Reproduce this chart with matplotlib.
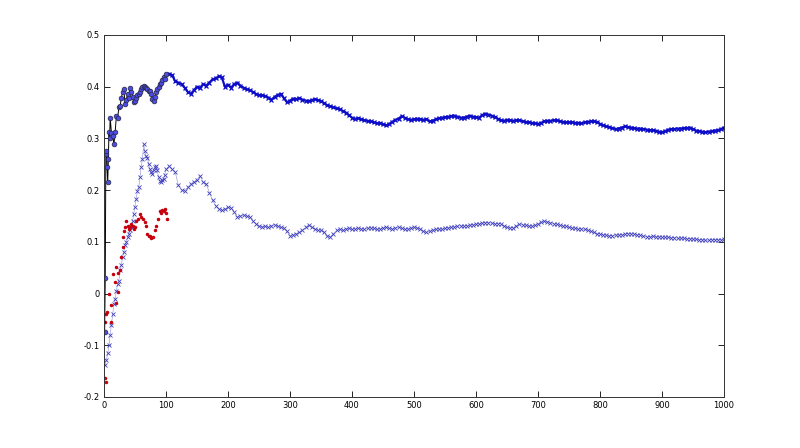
import matplotlib
matplotlib.use("Agg")
import matplotlib.pyplot as plt
import numpy as np

# ---- data ----
upper_early_idx = [1, 2, 3, 4, 5, 6, 7, 8, 9, 10] + list(range(12, 101, 2))
upper_early_val = [-0.075, 0.03, 0.27, 0.276, 0.244, 0.215, 0.26, 0.312, 0.30, 0.34,
                   0.31, 0.305, 0.289, 0.312, 0.344, 0.34, 0.36, 0.362, 0.379, 0.389,
                   0.395, 0.366, 0.375, 0.386, 0.378, 0.398, 0.39, 0.38, 0.37, 0.372,
                   0.378, 0.383, 0.385, 0.389, 0.396, 0.40, 0.402, 0.40, 0.398, 0.395,
                   0.392, 0.392, 0.385, 0.376, 0.373, 0.38, 0.389, 0.395, 0.40, 0.405,
                   0.408, 0.412, 0.418, 0.415, 0.424]

upper_late_idx = list(range(105, 1001, 5))
upper_late_val = [
    0.425, 0.422, 0.41, 0.408, 0.405, 0.398, 0.39, 0.386, 0.393, 0.40,
    0.398, 0.405, 0.402, 0.408, 0.414, 0.416, 0.42, 0.418, 0.40, 0.404,
    0.398, 0.405, 0.408, 0.402, 0.398, 0.395, 0.393, 0.39, 0.386, 0.384,
    0.383, 0.382, 0.379, 0.375, 0.38, 0.384, 0.386, 0.378, 0.37, 0.373,
    0.377, 0.376, 0.378, 0.375, 0.373, 0.372, 0.374, 0.376, 0.374, 0.372,
    0.368, 0.364, 0.362, 0.36, 0.358, 0.356, 0.353, 0.35, 0.345, 0.34,
    0.338, 0.339, 0.337, 0.335, 0.334, 0.333, 0.331, 0.329, 0.33, 0.327,
    0.325, 0.328, 0.332, 0.336, 0.338, 0.343, 0.34, 0.337, 0.336, 0.337,
    0.338, 0.337, 0.336, 0.337, 0.333, 0.334, 0.337, 0.339, 0.34, 0.341,
    0.342, 0.343, 0.344, 0.342, 0.34, 0.34, 0.342, 0.344, 0.342, 0.341,
    0.34, 0.345, 0.348, 0.346, 0.344, 0.342, 0.338, 0.335, 0.334, 0.336,
    0.335, 0.334, 0.335, 0.335, 0.333, 0.332, 0.331, 0.33, 0.329, 0.328,
    0.33, 0.333, 0.334, 0.334, 0.335, 0.335, 0.333, 0.332, 0.331, 0.331,
    0.331, 0.33, 0.33, 0.329, 0.331, 0.332, 0.333, 0.333, 0.332, 0.328,
    0.325, 0.323, 0.322, 0.32, 0.318, 0.319, 0.321, 0.323, 0.322, 0.321,
    0.32, 0.319, 0.319, 0.318, 0.317, 0.316, 0.316, 0.315, 0.313, 0.312,
    0.314, 0.317, 0.318, 0.318, 0.319, 0.319, 0.32, 0.32, 0.321, 0.318,
    0.315, 0.314, 0.313, 0.312, 0.313, 0.314, 0.315, 0.316, 0.318, 0.321]

lower_idx = list(range(2, 101, 2)) + list(range(105, 1001, 5))
lower_val = [
    -0.138, -0.128, -0.116, -0.10, -0.08, -0.06, -0.04, -0.02, -0.01, 0.005,
    0.019, 0.025, 0.045, 0.055, 0.07, 0.08, 0.093, 0.10, 0.109, 0.115,
    0.122, 0.128, 0.14, 0.154, 0.168, 0.183, 0.199, 0.205, 0.225, 0.245,
    0.26, 0.289, 0.275, 0.265, 0.263, 0.25, 0.24, 0.235, 0.231, 0.238,
    0.244, 0.247, 0.238, 0.225, 0.218, 0.215, 0.22, 0.222, 0.23, 0.24,
    0.247, 0.24, 0.234, 0.209, 0.20, 0.199, 0.205, 0.212, 0.216, 0.22,
    0.228, 0.215, 0.212, 0.195, 0.18, 0.17, 0.164, 0.161, 0.163, 0.167,
    0.166, 0.158, 0.148, 0.15, 0.151, 0.15, 0.148, 0.14, 0.135, 0.13,
    0.129, 0.13, 0.128, 0.131, 0.133, 0.13, 0.128, 0.126, 0.12, 0.112,
    0.114, 0.116, 0.118, 0.122, 0.128, 0.132, 0.128, 0.125, 0.123, 0.122,
    0.118, 0.112, 0.109, 0.116, 0.122, 0.124, 0.122, 0.125, 0.126, 0.124,
    0.125, 0.126, 0.125, 0.124, 0.126, 0.127, 0.126, 0.124, 0.125, 0.127,
    0.128, 0.126, 0.125, 0.127, 0.128, 0.126, 0.124, 0.125, 0.127, 0.128,
    0.127, 0.125, 0.12, 0.118, 0.12, 0.123, 0.124, 0.125, 0.124, 0.126,
    0.127, 0.128, 0.129, 0.13, 0.131, 0.13, 0.131, 0.132, 0.133, 0.134,
    0.135, 0.136, 0.137, 0.137, 0.136, 0.135, 0.135, 0.135, 0.131, 0.128,
    0.127, 0.127, 0.131, 0.134, 0.133, 0.132, 0.131, 0.13, 0.132, 0.135,
    0.138, 0.14, 0.139, 0.137, 0.135, 0.134, 0.132, 0.131, 0.13, 0.128,
    0.127, 0.126, 0.125, 0.125, 0.124, 0.123, 0.12, 0.118, 0.116, 0.115,
    0.114, 0.113, 0.112, 0.112, 0.113, 0.113, 0.114, 0.115, 0.116, 0.116,
    0.115, 0.114, 0.113, 0.111, 0.11, 0.11, 0.111, 0.11, 0.11, 0.109,
    0.109, 0.109, 0.108, 0.108, 0.107, 0.107, 0.107, 0.106, 0.106, 0.105,
    0.105, 0.104, 0.104, 0.103, 0.103, 0.104, 0.104, 0.104, 0.104, 0.105]

red_idx = [2, 3, 2, 4, 5, 11, 12, 8, 15, 18, 20, 23, 20, 22, 25, 28, 30, 31, 33, 34,
           36, 38, 40, 42, 44, 46, 48, 50, 52, 55, 58, 60, 63, 66, 68, 70, 72, 74, 76, 79,
           82, 84, 87, 90, 92, 94, 96, 98, 101, 100]
red_val = [-0.164, -0.172, -0.055, -0.039, -0.035, -0.023, -0.055, 0.0, 0.037, 0.022,
           -0.019, 0.003, 0.051, 0.04, 0.045, 0.071, 0.09, 0.109, 0.12, 0.128,
           0.141, 0.13, 0.125, 0.128, 0.135, 0.13, 0.125, 0.128, 0.14, 0.144,
           0.154, 0.148, 0.144, 0.138, 0.13, 0.115, 0.112, 0.112, 0.108, 0.109,
           0.122, 0.13, 0.144, 0.16, 0.155, 0.162, 0.16, 0.164, 0.144, 0.155]

x_ticks = list(range(0, 1001, 100))
y_ticks = [-0.2, -0.1, 0.0, 0.1, 0.2, 0.3, 0.4, 0.5]
y_tick_labels = ["-0.2", "-0.1", "0", "0.1", "0.2", "0.3", "0.4", "0.5"]

# ---- figure ----
fig = plt.figure(figsize=(8.0, 4.48), dpi=100)
ax = fig.add_axes([0.13, 0.114, 0.775, 0.808])

blue_dark = (0.05, 0.05, 0.78)
blue_light = (0.25, 0.25, 0.75)

ax.plot(lower_idx, lower_val, linestyle='-', lw=0.4, color=(0.55, 0.55, 0.85),
        marker='x', ms=2.6, mew=0.6, mec=blue_light)
ax.plot(red_idx, red_val, linestyle='none', marker='.', ms=3.0, color=(0.78, 0.0, 0.05))
ax.plot(upper_late_idx, upper_late_val, linestyle='-', lw=1.6, color=blue_dark,
        marker='x', ms=2.6, mew=0.9)
ax.plot(upper_early_idx, upper_early_val, linestyle='-', color='black', lw=0.7,
        marker='o', ms=3.4, mfc=(0.3, 0.3, 0.9), mec=(0.15, 0.15, 0.25), mew=0.5)

ax.set_xlim(0, 1000)
ax.set_ylim(-0.2, 0.5)
ax.set_xticks(x_ticks)
ax.set_xticklabels([str(t) for t in x_ticks])
ax.set_yticks(y_ticks)
ax.set_yticklabels(y_tick_labels)
ax.tick_params(direction='in', length=4, width=0.6, top=True, right=True,
               labelsize=6, pad=3, colors='black')
for s in ax.spines.values():
    s.set_linewidth(0.7)
    s.set_color('#333333')

fig.savefig("out.png", dpi=100, facecolor='white')
